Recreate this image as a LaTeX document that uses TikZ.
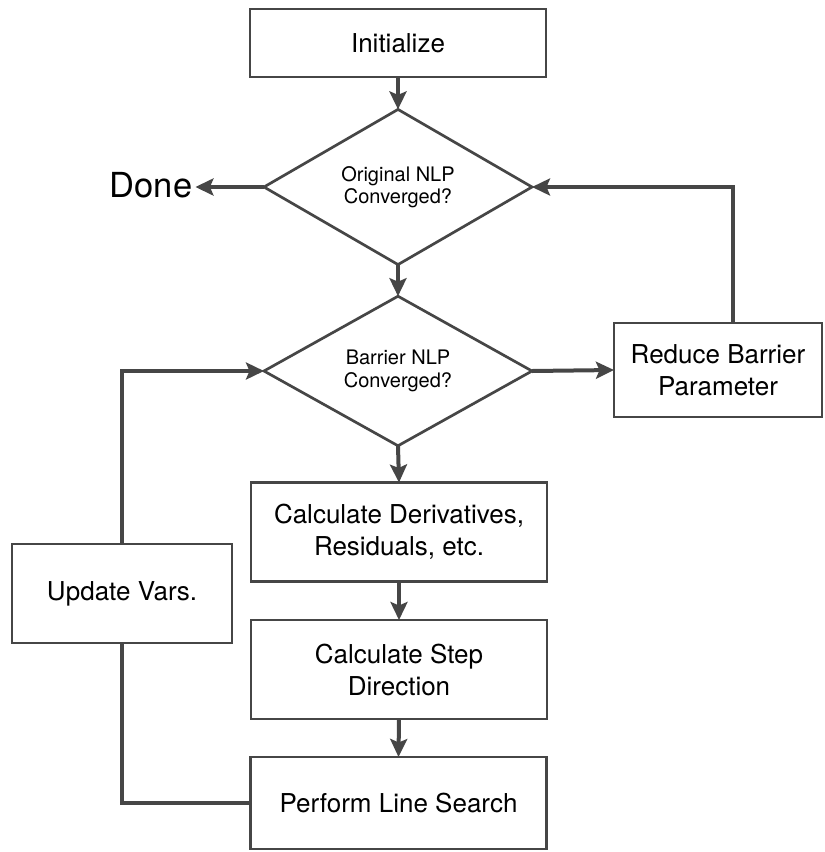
\documentclass[tikz,border=0pt]{standalone}
\usepackage{fontspec}
\setmainfont{TeX Gyre Heros}
\usetikzlibrary{shapes.geometric,arrows.meta}

\definecolor{ink}{HTML}{464646}

\tikzset{
  stepbox/.style={draw=ink, line width=2.7pt, rectangle, inner sep=0pt, outer sep=0pt,
    align=center, font=\fontsize{26}{32}\selectfont},
  decision/.style={draw=ink, line width=2.7pt, diamond, inner sep=0pt, outer sep=0pt,
    minimum width=268pt, minimum height=145pt, align=center,
    font=\fontsize{20}{22.5}\selectfont},
  link/.style={draw=ink, line width=4pt},
  flow/.style={link, -{Stealth[length=18pt,width=17pt,inset=3.5pt]}},
}

\begin{document}
\begin{tikzpicture}[x=1pt,y=-1pt]
  \useasboundingbox (0,0) rectangle (825,852);

  % process boxes
  \node[stepbox, minimum width=296pt, minimum height=68pt] (init) at (398,43) {Initialize};
  \node[stepbox, minimum width=296pt, minimum height=99pt] (derivs) at (399,532)
    {Calculate Derivatives,\\Residuals, etc.};
  \node[stepbox, minimum width=296pt, minimum height=99pt] (stepdir) at (399,669.5)
    {Calculate Step\\Direction};
  \node[stepbox, minimum width=296pt, minimum height=92pt] (search) at (398.5,803)
    {Perform Line Search};
  \node[stepbox, minimum width=220pt, minimum height=99pt] (update) at (122,593.5)
    {Update Vars.};
  \node[stepbox, minimum width=208pt, minimum height=94pt] (reduce) at (718,370)
    {Reduce Barrier\\Parameter};

  % decisions
  \node[decision] (orig) at (398,187) {Original NLP\\Converged?};
  \node[decision] (barrier) at (398,371) {Barrier NLP\\Converged?};

  % terminal label
  \node[inner sep=3pt, font=\fontsize{34.5}{40}\selectfont] (done) at (151,185) {Done};

  % connectors
  \draw[flow] (init.south) -- (orig.north);
  \draw[flow] (orig.west) -- (done.east |- orig.west);
  \draw[flow] (orig.south) -- (barrier.north);
  \draw[flow] (barrier.east) -- (reduce.west);
  \draw[flow] ([xshift=15pt]reduce.north) |- (orig.east);
  \draw[flow] (barrier.south) -- (derivs.north);
  \draw[flow] (derivs.south) -- (stepdir.north);
  \draw[flow] (stepdir.south) -- (search.north);
  \draw[link] (search.west) -| (update.south);
  \draw[flow] (update.north) |- (barrier.west);
\end{tikzpicture}
\end{document}
